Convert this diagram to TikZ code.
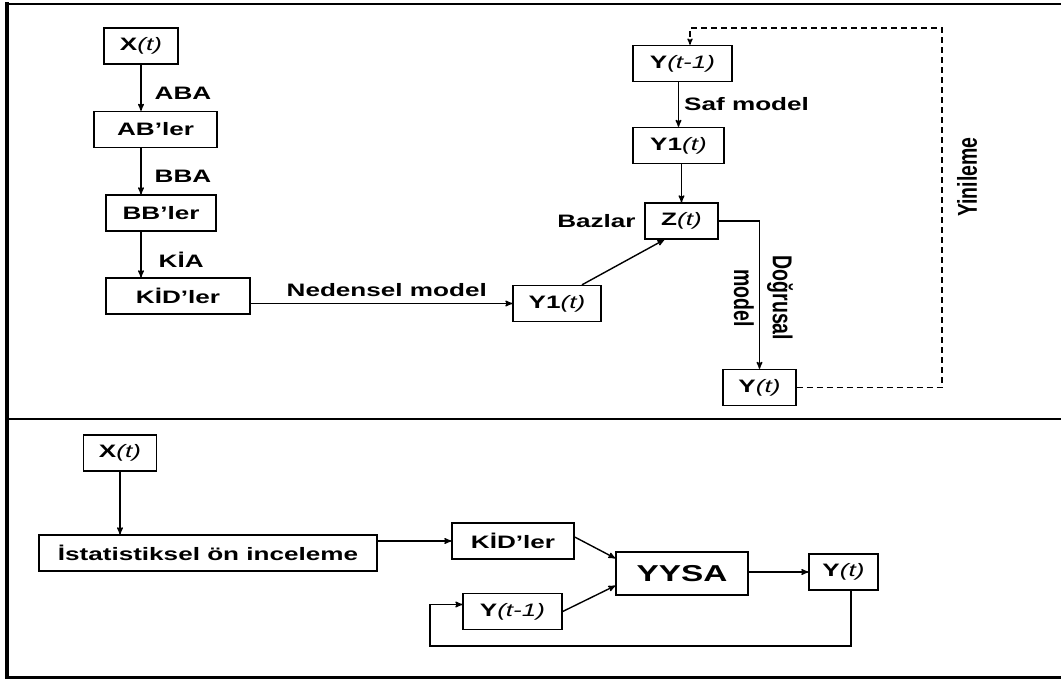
\documentclass[tikz,border=0pt]{standalone}
\usepackage{fontspec}
\usepackage{graphicx}
\setmainfont[FakeStretch=1.45]{Liberation Sans}
\newfontfamily\duzfont{Liberation Sans}
\usetikzlibrary{arrows,positioning}

\newcommand\tv[1]{{\mdseries\itshape(#1)}}
\newcommand\dikyaz[1]{\scalebox{1}[1.4]{#1}}

\begin{document}
\begin{tikzpicture}[x=1pt,y=-1pt,>=stealth',line width=1.4pt,
  font=\fontsize{18}{20}\selectfont\bfseries,
  blok/.style={draw,inner sep=0pt,minimum height=36pt},
  etiket/.style={inner sep=0pt},
  dik/.style={etiket,font=\fontsize{19.5}{21}\selectfont\duzfont\bfseries}]

\useasboundingbox (0,0) rectangle (1061,680);

% frame
\draw[line width=4pt] (7,2) -- (7,679);
\draw[line width=2pt] (5,4) -- (1061,4);
\draw[line width=3pt] (5,677) -- (1061,677);
\draw[line width=1.8pt] (7,419) -- (1061,419);

% upper part
\node[blok,minimum width=74pt]  (x1)   at (141,46)    {X\tv{t}};
\node[blok,minimum width=123pt] (ab)   at (155.5,129.5) {AB'ler};
\node[blok,minimum width=110pt] (bb)   at (161,213)   {BB'ler};
\node[blok,minimum width=144pt] (kid)  at (178,296)   {KİD'ler};
\node[blok,minimum width=88pt]  (y1b)  at (557,303.5) {Y1\tv{t}};
\node[blok,minimum width=99pt]  (ytm)  at (682.5,63.5) {Y\tv{t-1}};
\node[blok,minimum width=91pt]  (y1u)  at (678.5,145.5) {Y1\tv{t}};
\node[blok,minimum width=73pt]  (z)    at (681.5,221) {Z\tv{t}};
\node[blok,minimum width=73pt]  (yt)   at (759.5,387.5) {Y\tv{t}};
\node[etiket,left=8pt of z.west] (baz) {Bazlar};
\node[dik,rotate=90] (yin) at (967,177) {\dikyaz{Yinileme}};
\coordinate (d1) at (942,28);

\path[->] (x1.south) edge node[etiket,right=13pt,pos=0.62]{ABA} (x1.south |- ab.north)
          (x1.south |- ab.south) edge node[etiket,right=13pt,pos=0.6]{BBA} (x1.south |- bb.north)
          (x1.south |- bb.south) edge node[etiket,right=17pt,pos=0.62]{KİA} (x1.south |- kid.north)
          (kid.east |- y1b.west) edge node[etiket,above=6pt,pos=0.52]{Nedensel model} (y1b.west)
          ([xshift=25pt]y1b.north) edge ([xshift=20pt]z.south west)
          (y1u.south -| z.north) edge (z.north);
\draw[->] (ytm.south -| y1u.north) -- node[etiket,right=5pt]{Saf model} (y1u.north);
\draw[->] (z.east) -| node[dik,rotate=-90,anchor=south,pos=0.76,yshift=7pt]{\dikyaz{Doğrusal}}
                      node[dik,rotate=-90,anchor=north,pos=0.76,yshift=-5pt]{\dikyaz{model}} (yt.north);
\draw[->,dash pattern=on 6pt off 4pt,line width=1.2pt] (yt.east) -| (d1) -| ([xshift=7.5pt]ytm.north);

% lower part
\node[blok,minimum width=73pt]  (x2)   at (120,453)   {X\tv{t}};
\node[blok,minimum width=338pt] (ist)  at (208,553)   {İstatistiksel ön inceleme};
\node[blok,minimum width=122pt] (kid2) at (513,541)   {KİD'ler};
\node[blok,minimum width=99pt]  (y2)   at (512.5,611.5) {Y\tv{t-1}};
\node[blok,minimum width=132pt,minimum height=43pt,font=\fontsize{23}{25}\selectfont\bfseries] (yysa) at (682,573.5) {YYSA};
\node[blok,minimum width=69pt]  (yt2)  at (843.5,572) {Y\tv{t}};
\coordinate (g1) at (430,646);

\path[->] (x2.south) edge (x2.south |- ist.north)
          (kid2.west -| ist.east) edge (kid2.west)
          ([yshift=4pt]kid2.east) edge ([yshift=-7pt]yysa.north west)
          (y2.east) edge ([yshift=10pt]yysa.south west)
          (yysa.east |- yt2.west) edge (yt2.west);
\draw[->] ([xshift=7.5pt]yt2.south) |- (g1) |- ([yshift=7pt]y2.west);

\end{tikzpicture}
\end{document}
